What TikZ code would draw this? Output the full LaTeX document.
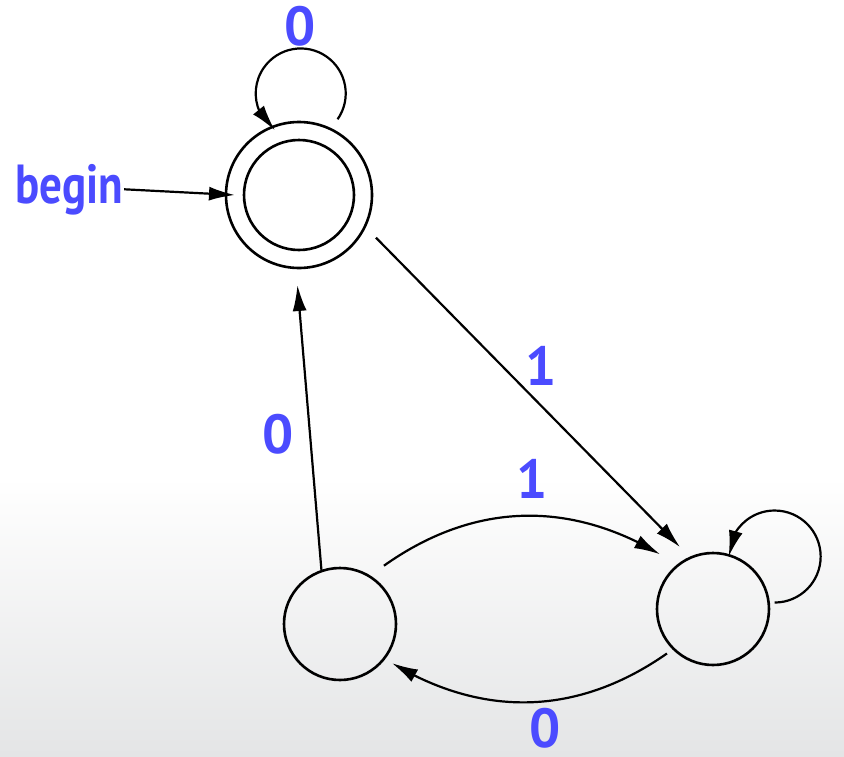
\documentclass[tikz,border=0pt]{standalone}
\usepackage{fontspec}
\setmainfont{PT Sans}
\usetikzlibrary{arrows.meta,calc,bending}
\definecolor{lblue}{HTML}{4B4BFF}
\definecolor{bggray}{HTML}{E4E5E6}
\tikzset{
  state/.style={draw,circle,line width=2.6pt,inner sep=0pt,outer sep=0pt,minimum size=#1},
  edge/.style={line width=2.2pt,-{Latex[length=26pt,width=14pt]}},
  lbl/.style={text=lblue,font=\bfseries\fontsize{55}{60}\selectfont,inner sep=1pt,anchor=base}
}
\begin{document}
\begin{tikzpicture}[x=1pt,y=1pt]
  \useasboundingbox (0,0) rectangle (844,-756);
  \fill[white] (0,0) rectangle (844,-477);
  \shade[top color=white,bottom color=bggray] (0,-477) rectangle (844,-756);

  % states
  \node[state=146pt] (q0) at (299,-195) {};
  \node[state=110pt] (q0in) at (299,-195) {};
  \node[state=112pt] (q2) at (340,-624) {};
  \node[state=112pt] (q1) at (713,-609) {};

  % start
  \node[lbl] (begin) at (69,-203) {\scalebox{0.82}[1]{begin}};
  \draw[edge] (begin.east) -- ($(q0)+(180:64)$);

  % self loop on q0
  \draw[edge] ($(q0)+(63:85)$) arc[start angle=-35,end angle=235,radius=45];
  \node[lbl] (l00) at (300,-45) {0};

  % q0 -> q1
  \draw[edge] ($(q0)+(-29:88)$) -- ($(q1)+(118:70)$);
  \node[lbl] (l01) at (541,-385) {1};

  % q2 -> q0
  \draw[edge] ($(q2)+(109:57)$) -- ($(q0)+(-91:90)$);
  \node[lbl] (l20) at (278,-453) {0};

  % q2 -> q1 (upper)
  \draw[edge] ($(q2)+(53:73)$) to[bend left=33] ($(q1)+(134:76)$);
  \node[lbl] (l21) at (532,-498) {1};

  % q1 -> q2 (lower)
  \draw[edge] ($(q1)+(-136:64)$) to[bend left=33] ($(q2)+(-37:65)$);
  \node[lbl] (l12) at (545,-747) {0};

  % self loop on q1
  \draw[edge] ($(q1)+(6:62)$) arc[start angle=-90,end angle=180,radius=46];
\end{tikzpicture}
\end{document}
